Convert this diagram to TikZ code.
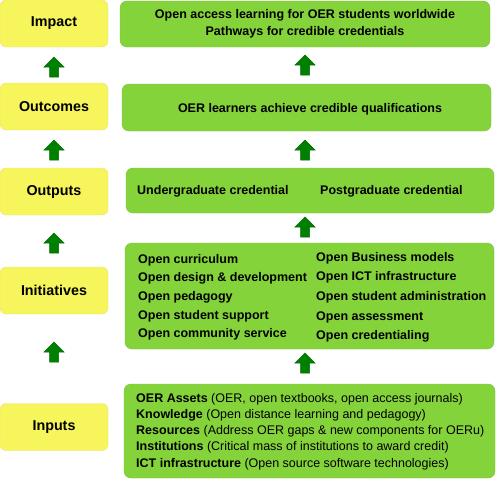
\documentclass[tikz,border=0pt]{standalone}
\usepackage{fontspec}
\setmainfont{Liberation Sans}
\definecolor{ybox}{HTML}{F7F55C}
\definecolor{yedge}{HTML}{E9E27A}
\definecolor{gbox}{HTML}{85D33B}
\definecolor{gedge}{HTML}{78C236}
\definecolor{arr}{HTML}{008000}
\definecolor{arredge}{HTML}{006A00}
\tikzset{
  lbox/.style={draw=yedge, fill=ybox, rounded corners=6pt, minimum width=108pt, minimum height=47pt, inner sep=0pt, font=\fontsize{14.3}{16}\selectfont\bfseries},
  rbox/.style={draw=gedge, fill=gbox, rounded corners=7pt, inner sep=0pt},
  gtxt/.style={inner sep=0pt, font=\fontsize{12.5}{17}\selectfont\bfseries},
  itxt/.style={inner sep=0pt, anchor=west, font=\fontsize{12.5}{15}\selectfont},
  uparrow/.pic={\draw[fill=arr, draw=arredge, line width=0.5pt, line join=miter]
     (0,0) -- (10,10) -- (4.5,10) -- (4.5,20) -- (-4.5,20) -- (-4.5,10) -- (-10,10) -- cycle;}
}
\begin{document}
\begin{tikzpicture}[x=1pt,y=-1pt]
\useasboundingbox (0,0) rectangle (496,479);
% left column
\node[lbox] (limpact) at (54,23.5) {Impact};
\node[lbox] (loutcomes) at (54,106.5) {Outcomes};
\node[lbox] (loutputs) at (54,191.5) {Outputs};
\node[lbox] (linit) at (54,290.5) {Initiatives};
\node[lbox] (linputs) at (54,427) {Inputs};
% right column boxes
\node[rbox, minimum width=370pt, minimum height=46pt] (rimpact) at (305,24) {};
\node[rbox, minimum width=369pt, minimum height=47pt] (routcomes) at (306.5,107.5) {};
\node[rbox, minimum width=368pt, minimum height=45pt] (routputs) at (310,190.5) {};
\node[rbox, minimum width=369pt, minimum height=106pt] (rinit) at (309.5,296) {};
\node[rbox, minimum width=371pt, minimum height=94pt] (rinputs) at (309.5,431) {};
% arrows left
\pic at (54,57) {uparrow};
\pic at (54,140) {uparrow};
\pic at (54,233) {uparrow};
\pic at (54,342) {uparrow};
% arrows right
\pic at (305,55) {uparrow};
\pic at (305,140) {uparrow};
\pic at (305,217) {uparrow};
\pic at (305,353) {uparrow};
% texts
\node[gtxt, align=center] (timpact) at (305,24) {Open access learning for OER students worldwide\\Pathways for credible credentials};
\node[gtxt] (toutcomes) at (310,109) {OER learners achieve credible qualifications};
\node[gtxt, anchor=west] (tug) at (137,191) {Undergraduate credential};
\node[gtxt, anchor=west] (tpg) at (320,191) {Postgraduate credential};
\node[gtxt, anchor=west] (i1) at (138,260) {Open curriculum};
\node[gtxt, anchor=west] (i2) at (138,278) {Open design \& development};
\node[gtxt, anchor=west] (i3) at (138,297) {Open pedagogy};
\node[gtxt, anchor=west] (i4) at (138,316) {Open student support};
\node[gtxt, anchor=west] (i5) at (138,334) {Open community service};
\node[gtxt, anchor=west] (j1) at (316,258) {Open Business models};
\node[gtxt, anchor=west] (j2) at (316,277) {Open ICT infrastructure};
\node[gtxt, anchor=west] (j3) at (316,297) {Open student administration};
\node[gtxt, anchor=west] (j4) at (316,317) {Open assessment};
\node[gtxt, anchor=west] (j5) at (316,336) {Open credentialing};
\node[itxt] (n1) at (136,399) {\textbf{OER Assets} (OER, open textbooks, open access journals)};
\node[itxt] (n2) at (136,415) {\textbf{Knowledge} (Open distance learning and pedagogy)};
\node[itxt] (n3) at (136,431) {\textbf{Resources} (Address OER gaps \& new components for OERu)};
\node[itxt] (n4) at (136,447) {\textbf{Institutions} (Critical mass of institutions to award credit)};
\node[itxt] (n5) at (136,464) {\textbf{ICT infrastructure} (Open source software technologies)};
\end{tikzpicture}
\end{document}
